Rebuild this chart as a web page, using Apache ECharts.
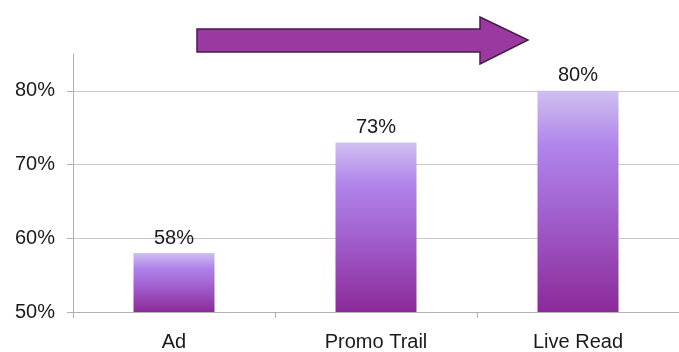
<!DOCTYPE html>
<html>
<head>
<meta charset="utf-8">
<script src="https://cdn.jsdelivr.net/npm/echarts@6/dist/echarts.min.js"></script>
<style>
    html, body { margin: 0; padding: 0; background: #fff; }
    #chart { width: 679px; height: 352px; }
</style>
</head>
<body>
<div id="chart"></div>
<script>
// 数据
const categories = ['Ad', 'Promo Trail', 'Live Read'];
const values = [58, 73, 80];
const yTicks = [50, 60, 70, 80];

const chart = echarts.init(document.getElementById('chart'));

// 柱子渐变色
const barColor = new echarts.graphic.LinearGradient(0, 0, 0, 1, [
    { offset: 0, color: '#cfc0f0' },
    { offset: 0.25, color: '#b084ea' },
    { offset: 0.6, color: '#9f5bc9' },
    { offset: 1, color: '#8b2a98' }
]);

const textStyle = { color: '#1a1a1a', fontSize: 20, fontFamily: 'Liberation Sans' };

chart.setOption({
    animation: false,
    grid: { left: 73, right: -4, top: 54, bottom: 40 },
    xAxis: {
        type: 'category',
        data: categories,
        axisLine: { lineStyle: { color: '#b0b0b0' } },
        axisTick: { show: true, length: 6, lineStyle: { color: '#b0b0b0' } },
        axisLabel: Object.assign({ margin: 20 }, textStyle)
    },
    yAxis: {
        type: 'value',
        min: 50,
        max: 85,
        interval: 10,
        axisLine: { show: true, lineStyle: { color: '#b0b0b0' } },
        axisTick: { show: true, length: 6, customValues: yTicks, lineStyle: { color: '#b0b0b0' } },
        axisLabel: Object.assign({
            margin: 18,
            customValues: yTicks,
            formatter: function (v) {
                return yTicks.indexOf(v) >= 0 ? v + '%' : '';
            }
        }, textStyle),
        splitLine: {
            lineStyle: { color: ['#c8c8c8', '#c8c8c8', '#c8c8c8', '#c8c8c8', 'rgba(0,0,0,0)'] }
        }
    },
    series: [{
        type: 'bar',
        data: values,
        barWidth: 81,
        itemStyle: { color: barColor },
        label: Object.assign({
            show: true,
            position: 'top',
            distance: 5,
            formatter: '{c}%'
        }, textStyle)
    }],
    graphic: [{
        // 顶部箭头
        type: 'polygon',
        shape: {
            points: [[197, 29], [480, 29], [480, 17], [528, 40], [480, 64], [480, 52], [197, 52]]
        },
        style: { fill: '#9a3aa0', stroke: '#4a1a50', lineWidth: 1.5 },
        z: 10
    }]
});

window.addEventListener('resize', function () {
    chart.resize();
});
</script>
</body>
</html>
